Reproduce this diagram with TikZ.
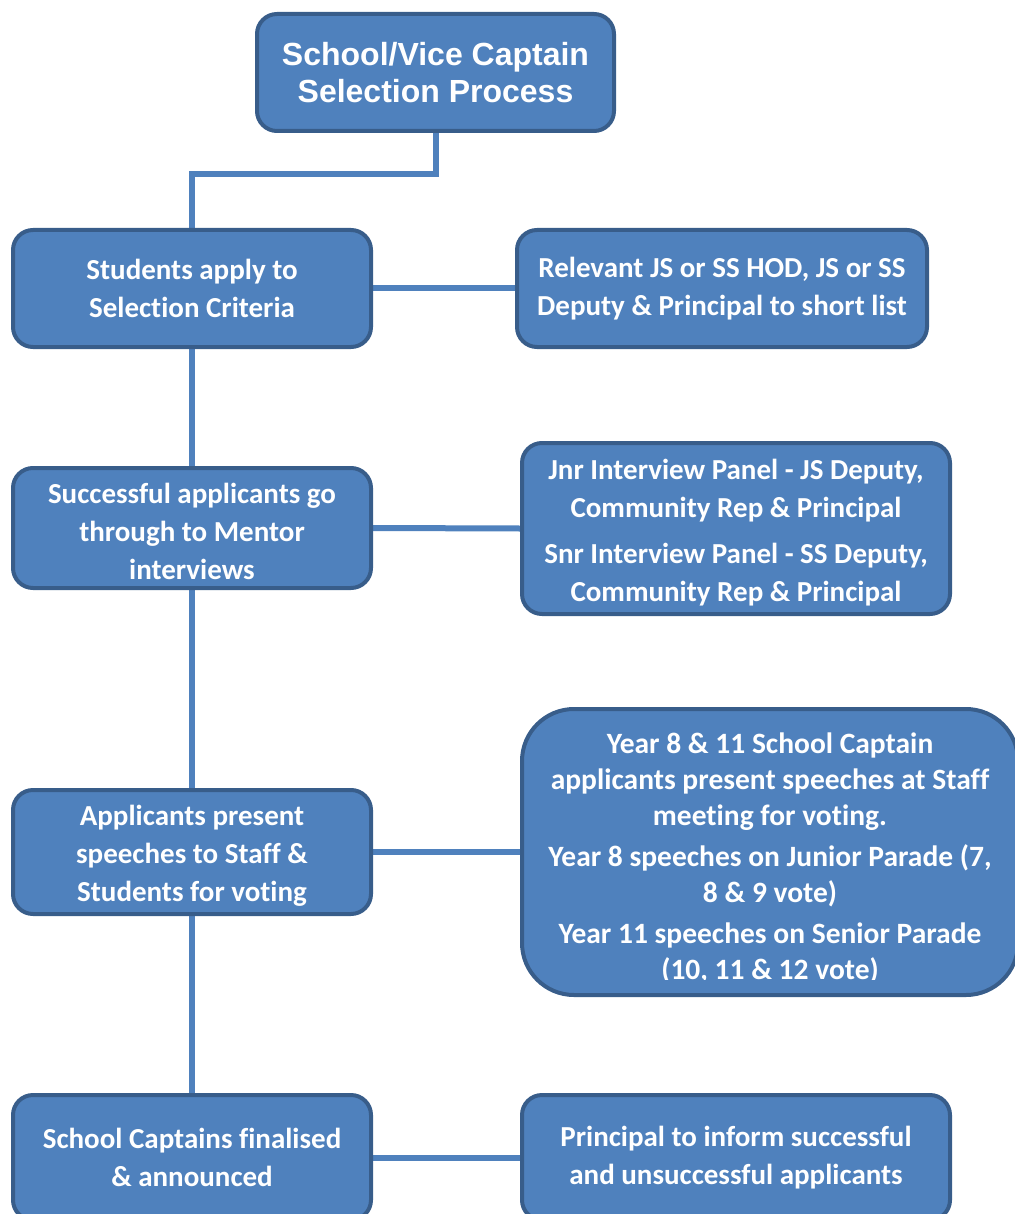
\documentclass[tikz,border=0pt]{standalone}
\usepackage{fontspec}
\setmainfont[Ligatures=NoCommon]{Carlito}
\newfontfamily\titlefont{Liberation Sans}
\usetikzlibrary{backgrounds,calc}
\definecolor{boxfill}{HTML}{4F81BD}
\definecolor{boxline}{HTML}{385D8A}
% extra room above a first line, to sit the text block a little lower
\newcommand\padtop[2]{\raisebox{0pt}[\dimexpr\height+#1\relax][\depth]{#2}}
\tikzset{
  stage/.style={draw=boxline, line width=4pt, fill=boxfill, rounded corners=20pt,
    text=white, align=center, inner sep=0pt,
    font=\bfseries\fontsize{29}{38}\selectfont},
  link/.style={draw=boxfill, line width=6pt},
}
\begin{document}
\begin{tikzpicture}[x=1pt,y=-1pt]
\useasboundingbox (0,0) rectangle (1014,1214);

% title
\node[stage, minimum width=357pt, minimum height=117pt,
  font=\titlefont\bfseries\fontsize{32}{37}\selectfont] (title) at (435.5,72.5)
  {School/Vice Captain\\Selection Process};

% left column: main steps
\node[stage, minimum width=358pt, minimum height=117pt] (b1) at (192,288.5)
  {Students apply to\\Selection Criteria};
\node[stage, minimum width=358pt, minimum height=120pt] (b2) at (192,528)
  {\padtop{6pt}{Successful applicants go}\\through to Mentor\\interviews};
\node[stage, minimum width=358pt, minimum height=124pt] (b3) at (192,852)
  {\padtop{8pt}{Applicants present}\\speeches to Staff \&\\Students for voting};
\node[stage, minimum width=358pt, minimum height=125pt] (b4) at (192,1157.5)
  {School Captains finalised\\\& announced};

% right column: who is involved
\node[stage, minimum width=410pt, minimum height=117pt] (r1) at (722,288.5)
  {Relevant JS or SS HOD, JS or SS\\Deputy \& Principal to short list};
\node[stage, minimum width=428pt, minimum height=171pt] (r2) at (736,528.5)
  {\padtop{9pt}{Jnr Interview Panel - JS Deputy,}\\Community Rep \& Principal\\[8pt]
   Snr Interview Panel - SS Deputy,\\Community Rep \& Principal};
\node[stage, minimum width=496pt, minimum height=286pt, rounded corners=52pt] (r3) at (770,852) {};
\begin{scope}
  \clip (522,709) rectangle (1014,979);
  \node[text=white, align=center, inner sep=0pt,
    font=\bfseries\fontsize{29.5}{36}\selectfont] (r3text) at ($(r3.center)+(0,6.5)$)
    {Year 8 \& 11 School Captain\\applicants present speeches at Staff\\meeting for voting.\\[5pt]
     Year 8 speeches on Junior Parade (7,\\8 \& 9 vote)\\[5pt]
     Year 11 speeches on Senior Parade\\(10, 11 \& 12 vote)};
\end{scope}
\node[stage, minimum width=428pt, minimum height=125pt] (r4) at (736,1157.5)
  {Principal to inform successful\\and unsuccessful applicants};

% connectors
\begin{scope}[on background layer]
  \draw[link] (title.south) |- ($(b1.north)+(0,-54)$) -| (b1.north);
  \draw[link] (b1) -- (b2);
  \draw[link] (b2) -- (b3);
  \draw[link] (b3) -- (b4);
  \draw[link] (b1.east) -- (r1.west);
  \draw[link] (b2.east) -- (r2.west);
  \draw[link] (b3.east) -- (r3.west);
  \draw[link] (b4.east) -- (r4.west);
\end{scope}
\end{tikzpicture}
\end{document}
